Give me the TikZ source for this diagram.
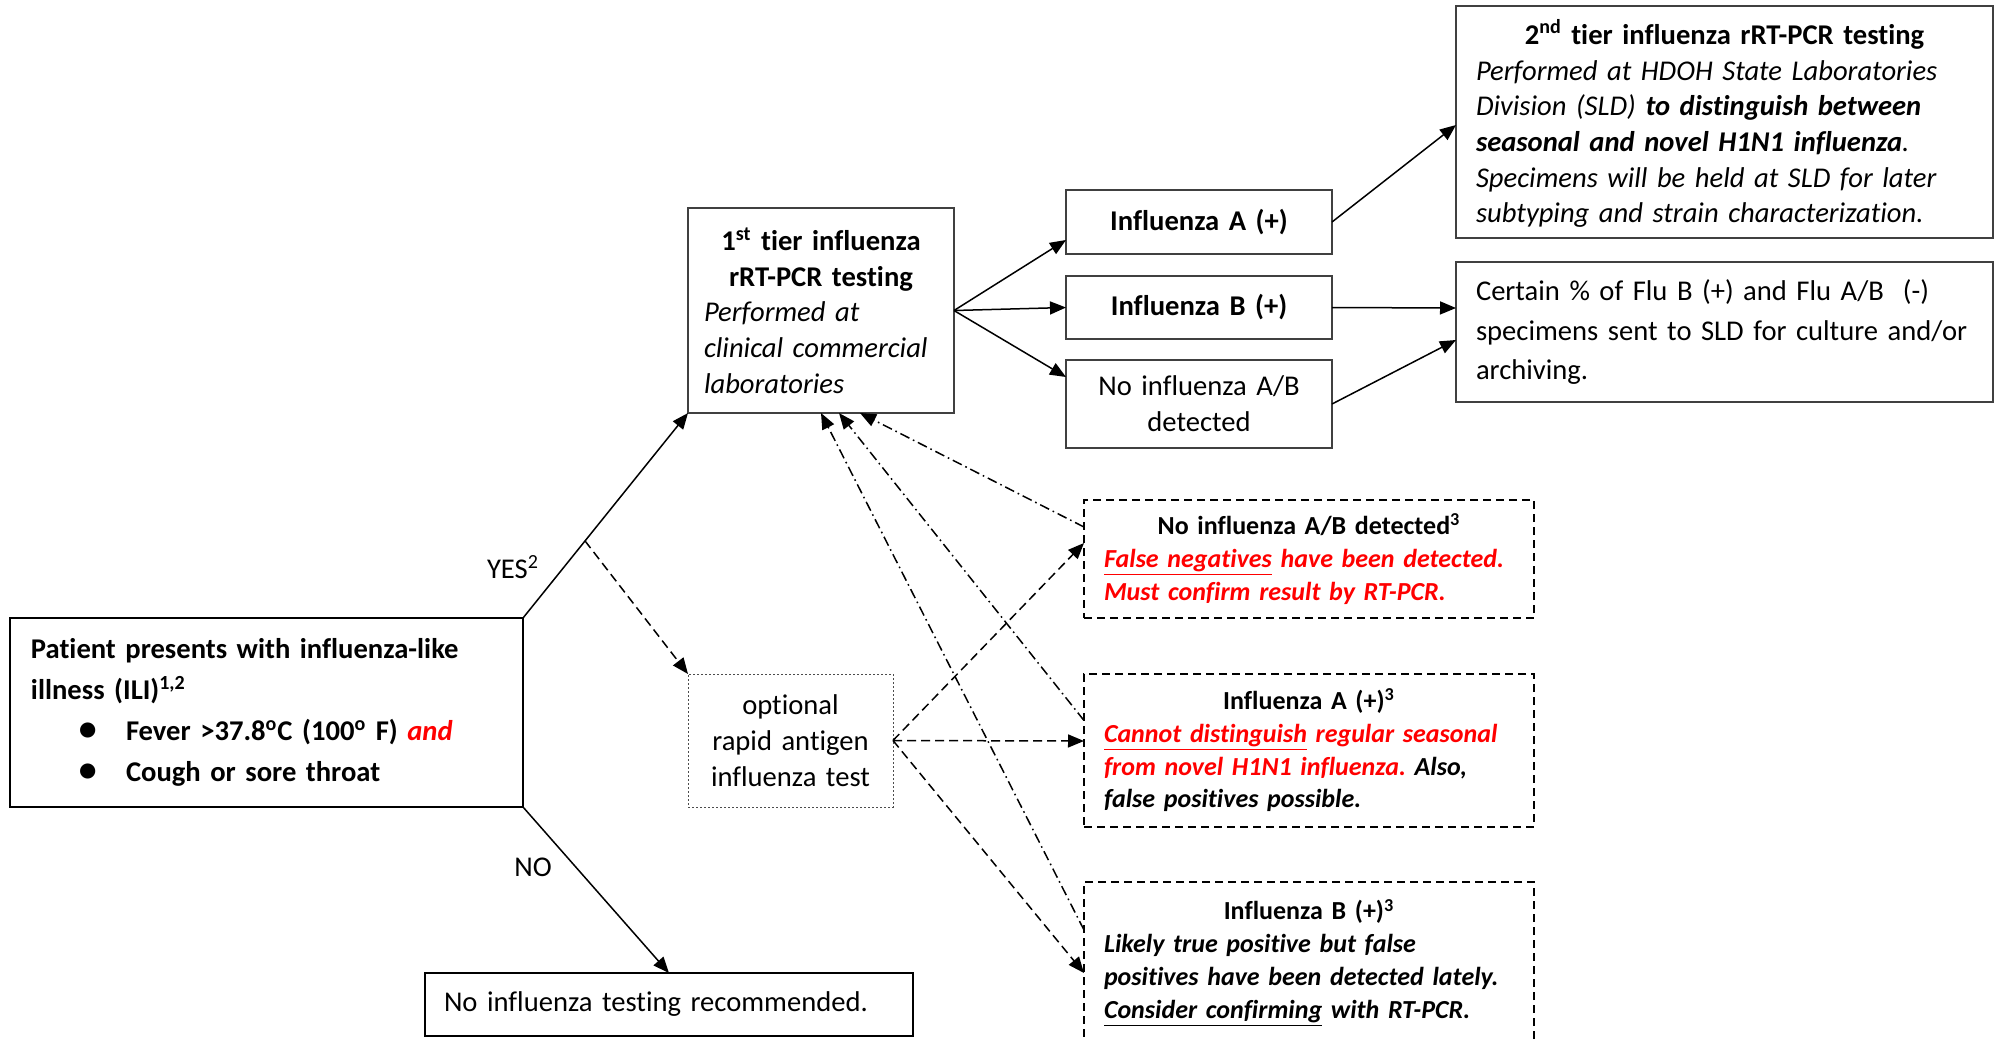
\documentclass[tikz,border=0pt]{standalone}
\usepackage{fontspec}
\setmainfont{Carlito}[Ligatures={NoCommon,NoContextual},RawFeature={-calt;-dlig}]
\usetikzlibrary{arrows.meta,calc}
\definecolor{fred}{RGB}{255,0,0}
\frenchspacing
\begin{document}
\begin{tikzpicture}[x=0.5pt,y=-0.5pt,
  base/.style={anchor=north west,outer sep=0pt,inner ysep=0pt,font=\fontsize{14.3}{17.85}\selectfont\frenchspacing},
  box/.style={base,draw=black!75,line width=0.6pt},
  tbox/.style={base,draw=black,line width=1pt},
  optbox/.style={base,draw=black!70,line width=0.5pt,dash pattern=on 1pt off 1pt},
  dbox/.style={base,draw=black,line width=0.75pt,dash pattern=on 4pt off 2.5pt,font=\fontsize{13}{16.4}\selectfont\frenchspacing},
  lbl/.style={font=\fontsize{14.3}{17.85}\selectfont,inner sep=0pt},
  arr/.style={line width=0.75pt,-{Triangle[length=8pt,width=6.5pt]}},
  darr/.style={arr,dash pattern=on 4.5pt off 2.5pt},
  ddarr/.style={arr,dash pattern=on 5pt off 2pt on 0.8pt off 2pt}
]
\useasboundingbox (0,0) rectangle (1999,1040);
\clip (0,0) rectangle (1999,1040);

% boxes
\node[tbox,minimum height=94.5pt,inner xsep=10.5pt,text width=235.5pt,align=left,
  font=\fontsize{14.3}{20.5}\selectfont\bfseries] (pat) at (10,618)
  {Patient presents with influenza-like\\
   illness (ILI)\textsuperscript{1,2}\\
   \hspace*{24pt}\makebox[23.5pt][l]{\scalebox{1.25}{\textbullet}}Fever >37.8\textsuperscript{o}C (100\textsuperscript{o} F) \textcolor{fred}{\itshape and}\\
   \hspace*{24pt}\makebox[23.5pt][l]{\scalebox{1.25}{\textbullet}}Cough or sore throat};

\node[box,minimum height=102.5pt,inner xsep=8pt,text width=117pt,align=left] (tier1) at (688,208)
  {\makebox[\hsize]{\bfseries 1\textsuperscript{st} tier influenza}\\
   \makebox[\hsize]{\bfseries rRT-PCR testing}\\
   \itshape Performed at\\ clinical commercial\\ laboratories};

\node[box,minimum height=32pt,inner xsep=8pt,text width=117pt,align=center,
  font=\fontsize{14.3}{17.85}\selectfont\bfseries] (infA) at (1066,190) {Influenza A (+)};
\node[box,minimum height=31.5pt,inner xsep=8pt,text width=117pt,align=center,
  font=\fontsize{14.3}{17.85}\selectfont\bfseries] (infB) at (1066,276) {Influenza B (+)};
\node[box,minimum height=44pt,inner xsep=8pt,text width=117pt,align=center] (noab) at (1066,360)
  {No influenza A/B\\ detected};

\node[box,minimum height=116pt,inner xsep=10pt,text width=248.5pt,align=left] (tier2) at (1456,6)
  {\rule{0pt}{14pt}\makebox[\hsize]{\bfseries 2\textsuperscript{nd} tier influenza rRT-PCR testing}\\
   \itshape Performed at HDOH State Laboratories\\
   Division (SLD) \textbf{to distinguish between}\\
   \textbf{seasonal and novel H1N1 influenza}.\\
   Specimens will be held at SLD for later\\
   subtyping and strain characterization.};

\node[box,minimum height=70pt,inner xsep=10pt,text width=248.5pt,align=left,
  font=\fontsize{14.3}{19.75}\selectfont] (cert) at (1456,262)
  {\mbox{Certain \% of Flu B (+) and Flu A/B\ \ (-)}\\
   \mbox{specimens sent to SLD for culture and/or}\\
   archiving.};

\node[optbox,minimum height=66.5pt,inner xsep=8pt,text width=86.5pt,align=center] (opt) at (688,674)
  {optional\\ rapid antigen\\ influenza test};

\node[tbox,minimum height=31.5pt,inner xsep=9.5pt,text width=225pt,align=left] (notest) at (425,973)
  {No influenza testing recommended.};

\node[dbox,minimum height=59pt,inner xsep=10pt,text width=205pt,align=left] (dno) at (1084,500)
  {\makebox[\hsize]{\bfseries No influenza A/B detected\textsuperscript{3}}\\
   \color{fred}\bfseries\itshape\mbox{\underline{False negatives} have been detected.}\\
   Must confirm result by RT-PCR.};

\node[dbox,minimum height=76.5pt,inner xsep=10pt,text width=205pt,align=left] (da) at (1084,674)
  {\makebox[\hsize]{\bfseries Influenza A (+)\textsuperscript{3}}\\
   \color{fred}\bfseries\itshape\mbox{\underline{Cannot distinguish} regular seasonal}\\
   from novel H1N1 influenza. \color{black}Also,\\
   false positives possible.};

\node[dbox,minimum height=81pt,inner xsep=10pt,text width=205pt,align=left] (db) at (1084,882)
  {\makebox[\hsize]{\bfseries Influenza B (+)\textsuperscript{3}}\\
   \bfseries\itshape Likely true positive but false\\
   \mbox{positives have been detected lately.}\\
   \underline{Consider confirming} with RT-PCR.};

% labels
\node[lbl] (yes) at (513,567) {YES\textsuperscript{2}};
\node[lbl] (no) at (533,867) {NO};

% solid connectors
\draw[arr] (pat.north east) -- (tier1.south west);
\draw[arr] (pat.south east) -- (notest.north);
\draw[arr] (tier1.east) -- ($(infA.west)+(0,18)$);
\draw[arr] (tier1.east) -- (infB.west);
\draw[arr] (tier1.east) -- ($(noab.west)+(0,-27)$);
\draw[arr] (infA.east) -- ($(tier2.west)+(0,3)$);
\draw[arr] (infB.east) -- ($(cert.west)+(0,-24)$);
\draw[arr] (noab.east) -- ($(cert.west)+(0,8)$);

% dashed connectors
\coordinate (ym) at ($(pat.north east)!0.376!(tier1.south west)$);
\draw[darr] (ym) -- (opt.north west);
\draw[darr] (opt.east) -- ($(dno.west)+(0,-16)$);
\draw[darr] (opt.east) -- ($(da.west)+(0,-9.5)$);
\draw[darr] (opt.east) -- ($(db.west)+(0,10)$);

% dash-dot connectors
\draw[ddarr] ($(dno.west)+(0,-32)$) -- ($(tier1.south)+(39,0)$);
\draw[ddarr] ($(da.west)+(0,-30)$) -- ($(tier1.south)+(18,0)$);
\draw[ddarr] ($(db.west)+(0,-33)$) -- (tier1.south);
\end{tikzpicture}
\end{document}
